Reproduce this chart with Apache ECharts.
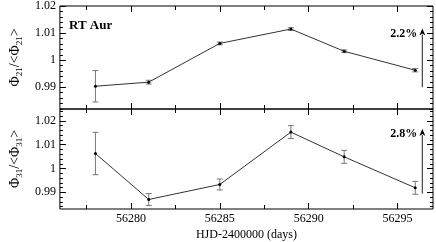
<!DOCTYPE html>
<html>
<head>
<meta charset="utf-8">
<script src="https://cdn.jsdelivr.net/npm/echarts@6/dist/echarts.min.js"></script>
<style>
html,body{margin:0;padding:0;background:#fff;}
#chart{width:436px;height:242px;}
</style>
</head>
<body>
<div id="chart"></div>
<script>
// ---- data ----
const days = [56278, 56281, 56285, 56289, 56292, 56296];
const phi21 = [0.9904, 0.9919, 1.0062, 1.0115, 1.0033, 0.9963];
const phi21Err = [0.0058, 0.0007, 0.0005, 0.0005, 0.0005, 0.0006];
const phi31 = [1.0063, 0.9870, 0.9933, 1.0153, 1.0049, 0.9919];
const phi31Err = [0.0089, 0.0025, 0.0023, 0.0027, 0.0027, 0.0027];

// arrows: [x, from, to, label]
const arrow21 = [56296.4, 0.9900, 1.0117, '2.2%'];
const arrow31 = [56296.4, 0.9895, 1.0166, '2.8%'];

// axis ticks
const xRange = [56276, 56297];
const xMajor = [56280, 56285, 56290, 56295];
const xMinor = [56277.5, 56282.5, 56287.5, 56292.5];
const y21Range = [0.982, 1.02];
const y31Range = [0.983, 1.025];
const yMajor = [0.99, 1, 1.01, 1.02];
const y21Minor = [0.982, 0.984, 0.986, 0.988, 0.992, 0.994, 0.996, 0.998, 1.002, 1.004, 1.006, 1.008, 1.012, 1.014, 1.016, 1.018];
const y31Minor = [0.984, 0.986, 0.988, 0.992, 0.994, 0.996, 0.998, 1.002, 1.004, 1.006, 1.008, 1.012, 1.014, 1.016, 1.018, 1.022, 1.024];

const title = 'RT Aur';
const xName = 'HJD-2400000 (days)';

const FONT = '"Liberation Serif", "Times New Roman", serif';

const chart = echarts.init(document.getElementById('chart'), null, {renderer: 'canvas'});

const plainFmt = v => String(Math.round(v * 10000) / 10000);

function xAx(grid, pos, ticks, len, showLabel) {
  return {
    type: 'value', gridIndex: grid, position: pos, min: xRange[0], max: xRange[1],
    axisLine: {show: false, onZero: false},
    splitLine: {show: false},
    axisTick: {show: true, inside: true, length: len, customValues: ticks, lineStyle: {color: '#000', width: 1}},
    axisLabel: {show: showLabel, customValues: ticks, formatter: plainFmt, color: '#000', fontFamily: FONT, fontSize: 12, margin: 4},
    name: showLabel ? xName : '', nameLocation: 'middle', nameGap: 20,
    nameTextStyle: {color: '#000', fontFamily: FONT, fontSize: 12}
  };
}
function yAx(grid, pos, range, ticks, len, showLabel, name) {
  return {
    type: 'value', gridIndex: grid, position: pos, min: range[0], max: range[1],
    axisLine: {show: false, onZero: false},
    splitLine: {show: false},
    axisTick: {show: true, inside: true, length: len, customValues: ticks, lineStyle: {color: '#000', width: 1}},
    axisLabel: {show: showLabel, customValues: ticks, formatter: plainFmt, color: '#000', fontFamily: FONT, fontSize: 12, margin: 4},
    name: name || '', nameLocation: 'middle', nameRotate: 90, nameGap: 24,
    nameTextStyle: {
      color: '#000', fontFamily: FONT, fontSize: 14,
      rich: {
        p: {fontFamily: FONT, fontSize: 14, lineHeight: 18, color: '#000'},
        s: {fontFamily: FONT, fontSize: 9, lineHeight: 9, verticalAlign: 'bottom', color: '#000'}
      }
    }
  };
}

const xAxes = [
  xAx(0, 'bottom', xMajor, 6, false), xAx(0, 'bottom', xMinor, 4, false),
  xAx(0, 'top', xMajor, 6, false), xAx(0, 'top', xMinor, 4, false),
  xAx(1, 'bottom', xMajor, 6, true), xAx(1, 'bottom', xMinor, 4, false),
  xAx(1, 'top', xMajor, 6, false), xAx(1, 'top', xMinor, 4, false)
];
const yAxes = [
  yAx(0, 'left', y21Range, yMajor, 6, true, '{p|Φ}{s|21}{p|/<Φ}{s|21}{p|>}'),
  yAx(0, 'left', y21Range, y21Minor, 3, false),
  yAx(0, 'right', y21Range, yMajor, 6, false),
  yAx(0, 'right', y21Range, y21Minor, 3, false),
  yAx(1, 'left', y31Range, yMajor, 6, true, '{p|Φ}{s|31}{p|/<Φ}{s|31}{p|>}'),
  yAx(1, 'left', y31Range, y31Minor, 3, false),
  yAx(1, 'right', y31Range, yMajor, 6, false),
  yAx(1, 'right', y31Range, y31Minor, 3, false)
];

function errRender(params, api) {
  const x = api.value(0), y = api.value(1), e = api.value(2);
  const t = api.coord([x, y + e]), b = api.coord([x, y - e]);
  const w = 3;
  const st = {stroke: '#777', lineWidth: 1};
  return {type: 'group', children: [
    {type: 'line', shape: {x1: t[0], y1: t[1], x2: b[0], y2: b[1]}, style: st},
    {type: 'line', shape: {x1: t[0] - w, y1: t[1], x2: t[0] + w, y2: t[1]}, style: st},
    {type: 'line', shape: {x1: b[0] - w, y1: b[1], x2: b[0] + w, y2: b[1]}, style: st}
  ]};
}
function arrowRender(params, api) {
  const x = api.value(0), y0 = api.value(1), y1 = api.value(2);
  const p0 = api.coord([x, y0]), p1 = api.coord([x, y1]);
  const hx = 3, hy = 7;
  return {type: 'group', children: [
    {type: 'line', shape: {x1: p0[0], y1: p0[1], x2: p1[0], y2: p1[1] + hy - 1}, style: {stroke: '#444', lineWidth: 1.2}},
    {type: 'polygon', shape: {points: [[p1[0], p1[1]], [p1[0] - hx, p1[1] + hy], [p1[0], p1[1] + hy - 2], [p1[0] + hx, p1[1] + hy]]}, style: {fill: '#000'}},
    {type: 'text', style: {text: api.value(3), x: p1[0] - 5, y: p1[1] + 5, align: 'right', verticalAlign: 'middle', fontFamily: FONT, fontSize: 12, fontWeight: 'bold', fill: '#000'}}
  ]};
}

function zip(a, b, c) { return a.map((v, i) => c ? [v, b[i], c[i]] : [v, b[i]]); }

chart.setOption({
  animation: false,
  backgroundColor: '#fff',
  title: {text: title, left: 64, top: 14, textStyle: {fontFamily: FONT, fontSize: 13, fontWeight: 'bold', color: '#000'}},
  grid: [
    {left: 41, right: 3, top: 5, height: 104, show: true, borderColor: '#000', borderWidth: 1, backgroundColor: 'transparent'},
    {left: 41, right: 3, top: 109, height: 105, show: true, borderColor: '#000', borderWidth: 1, backgroundColor: 'transparent'}
  ],
  xAxis: xAxes,
  yAxis: yAxes,
  series: [
    {type: 'line', xAxisIndex: 0, yAxisIndex: 0, data: zip(days, phi21), symbol: 'circle', symbolSize: 3,
     lineStyle: {color: '#333', width: 1}, itemStyle: {color: '#000'}, z: 3},
    {type: 'custom', xAxisIndex: 0, yAxisIndex: 0, data: zip(days, phi21, phi21Err), renderItem: errRender, z: 2},
    {type: 'line', xAxisIndex: 4, yAxisIndex: 4, data: zip(days, phi31), symbol: 'circle', symbolSize: 3,
     lineStyle: {color: '#333', width: 1}, itemStyle: {color: '#000'}, z: 3},
    {type: 'custom', xAxisIndex: 4, yAxisIndex: 4, data: zip(days, phi31, phi31Err), renderItem: errRender, z: 2},
    {type: 'custom', xAxisIndex: 0, yAxisIndex: 0, data: [arrow21], renderItem: arrowRender, z: 4},
    {type: 'custom', xAxisIndex: 4, yAxisIndex: 4, data: [arrow31], renderItem: arrowRender, z: 4}
  ]
});
</script>
</body>
</html>
